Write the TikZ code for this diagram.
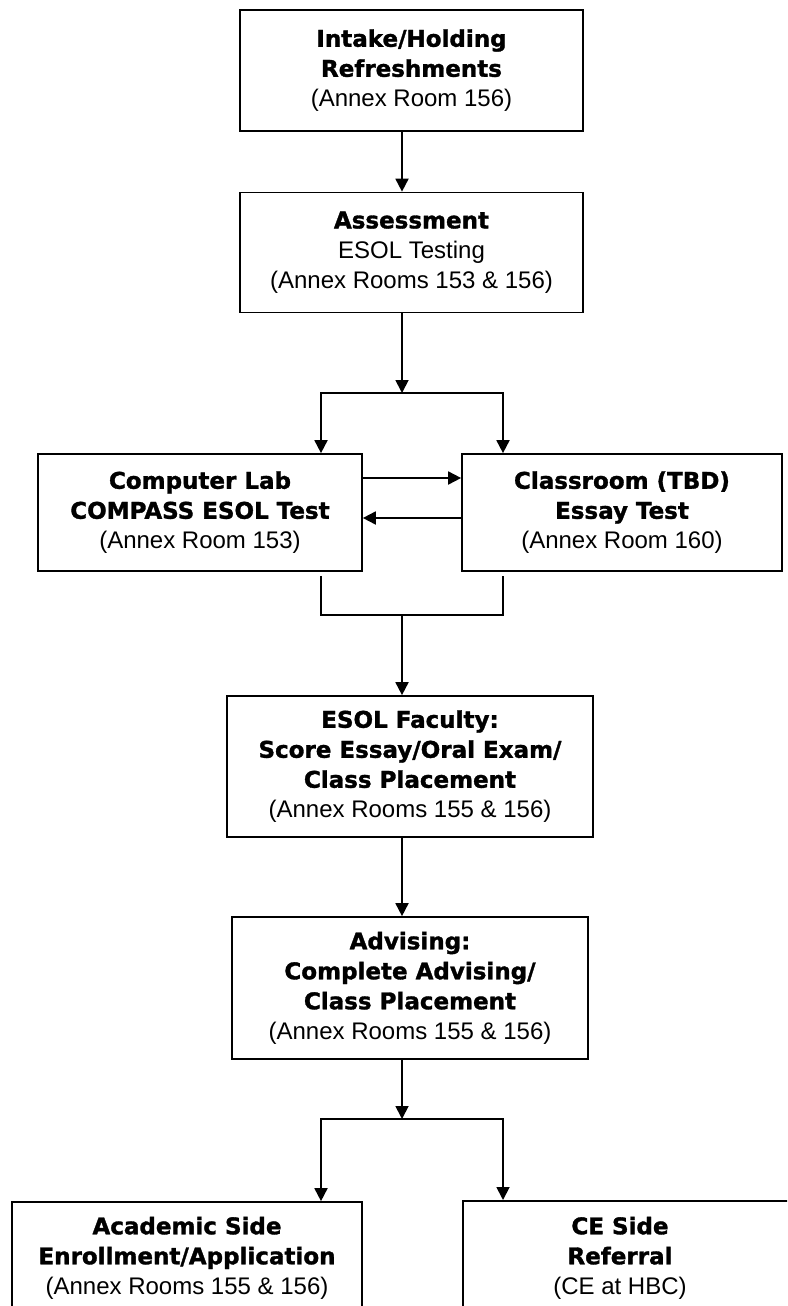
\documentclass[tikz,border=0pt]{standalone}
\usepackage{fontspec}
\setmainfont{Liberation Sans}
\newfontfamily\heavyfont{DejaVu Sans}[BoldFeatures={FakeBold=1.4}]
\usetikzlibrary{arrows.meta}
\newcommand{\hvy}[1]{{\heavyfont\bfseries\fontsize{23}{30}\selectfont #1}}
\tikzset{
  stepbox/.style={draw, line width=1.7pt, align=center, inner sep=0pt,
    font=\fontsize{24}{30}\selectfont},
  plain/.style={align=center, inner sep=0pt, font=\fontsize{24}{30}\selectfont},
  arr/.style={line width=1.8pt, -{Triangle[width=13pt,length=13pt]}},
  link/.style={line width=1.8pt}
}
\begin{document}
\begin{tikzpicture}[x=1pt,y=1pt]
	\useasboundingbox (0,0) rectangle (787,-1306);
	\clip (0,0) rectangle (787,-1306);
	% guide lines
	\coordinate (axis) at (402,0);
	\coordinate (lbr) at (321,0);
	\coordinate (rbr) at (503,0);
	\coordinate (split1) at (402,-393);
	\coordinate (merge) at (402,-615);
	\coordinate (split2) at (402,-1119);
	\coordinate (upper) at (0,-478);
	\coordinate (lower) at (0,-518);
	% boxes
	\node[stepbox, minimum width=343, minimum height=121] (intake) at (411.5,-70.5)
		{\hvy{Intake/Holding}\\ \hvy{Refreshments}\\ (Annex Room 156)};
	\node[stepbox, minimum width=343, minimum height=120] (assess) at (411.5,-252.5)
		{\hvy{Assessment}\\ ESOL Testing\\ (Annex Rooms 153 \& 156)};
	\node[stepbox, minimum width=324, minimum height=117] (lab) at (200,-512.5)
		{\hvy{Computer Lab}\\ \hvy{COMPASS ESOL Test}\\ (Annex Room 153)};
	\node[stepbox, minimum width=320, minimum height=117] (classroom) at (622,-512.5)
		{\hvy{Classroom (TBD)}\\ \hvy{Essay Test}\\ (Annex Room 160)};
	\node[stepbox, minimum width=366, minimum height=141] (faculty) at (410,-766.5)
		{\hvy{ESOL Faculty:}\\ \hvy{Score Essay/Oral Exam/}\\ \hvy{Class Placement}\\ (Annex Rooms 155 \& 156)};
	\node[stepbox, minimum width=356, minimum height=142] (advising) at (410,-988)
		{\hvy{Advising:}\\ \hvy{Complete Advising/}\\ \hvy{Class Placement}\\ (Annex Rooms 155 \& 156)};
	\node[stepbox, minimum width=350, minimum height=112] (academic) at (187,-1258)
		{\hvy{Academic Side}\\ \hvy{Enrollment/Application}\\ (Annex Rooms 155 \& 156)};
	\node[stepbox, anchor=north west, minimum width=400, minimum height=130] (ceframe) at (462,-1200) {};
	\node[plain] (ce) at (620,-1258)
		{\hvy{CE Side}\\ \hvy{Referral}\\ (CE at HBC)};
	% connectors
	\draw[arr] (intake.south -| axis) -- (assess.north -| axis);
	\draw[arr] (assess.south -| axis) -- (split1);
	\draw[arr] (split1) -| (lab.north -| lbr);
	\draw[arr] (split1) -| (classroom.north -| rbr);
	\draw[arr] (lab.east |- upper) -- (classroom.west |- upper);
	\draw[arr] (classroom.west |- lower) -- (lab.east |- lower);
	\draw[link] ([yshift=-4pt]lab.south -| lbr) |- (merge) -| ([yshift=-4pt]classroom.south -| rbr);
	\draw[arr] (merge) -- (faculty.north -| axis);
	\draw[arr] (faculty.south -| axis) -- (advising.north -| axis);
	\draw[arr] (advising.south -| axis) -- (split2);
	\draw[arr] (split2) -| (academic.north -| lbr);
	\draw[arr] (split2) -| (ceframe.north -| rbr);
\end{tikzpicture}
\end{document}
